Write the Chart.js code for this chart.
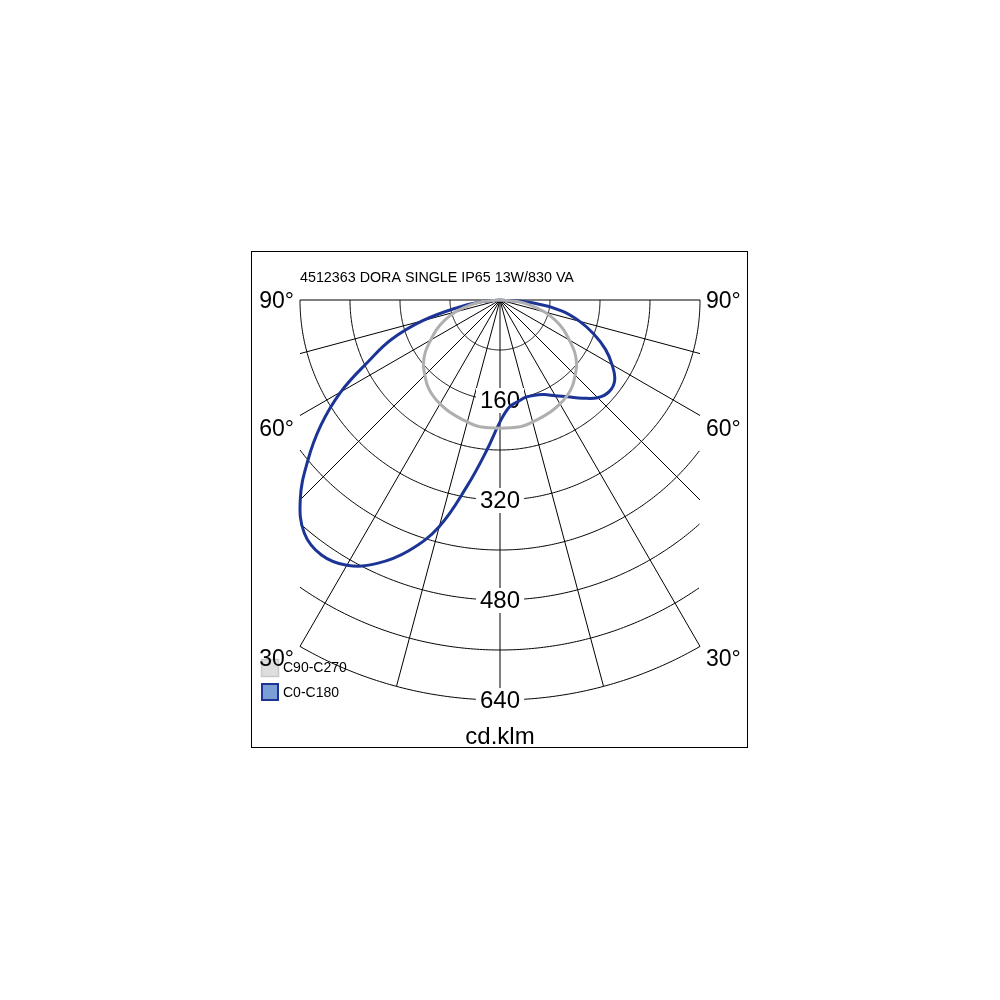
<!DOCTYPE html>
<html>
<head>
<meta charset="utf-8">
<script src="https://cdn.jsdelivr.net/npm/chart.js@4.4.0/dist/chart.umd.min.js"></script>
<style>
  html, body { margin: 0; padding: 0; background: #fff; }
  #wrap { width: 1000px; height: 1000px; }
</style>
</head>
<body>
<div id="wrap"><canvas id="polar" width="1000" height="1000"></canvas></div>
<script>
/**
 * Data (cd/klm)
 */
const gammaDeg = [0, 5, 10, 15, 20, 25, 30, 35, 40, 45, 50, 55, 60, 65, 70, 75, 80, 85, 90];
// C0-C180 plane, left half (C180)
const c180Values = [195, 241, 302, 375, 427, 465, 490, 498, 487, 452, 402, 350, 294, 232, 185, 128, 68, 28, 0];
// C0-C180 plane, right half (C0)
const c0Values = [195, 172, 165, 161, 162, 167, 177, 189, 205, 221, 228, 224, 207, 186, 160, 132, 100, 52, 0];
// C90-C270 plane (symmetric)
const c90Values = [205, 205, 205, 202, 199, 196, 192, 187, 180, 170, 160, 146, 128, 112, 94, 74, 50, 28, 0];

const ringSteps = [80, 160, 240, 320, 400, 480, 560, 640];
const ringLabels = ['160', '320', '480', '640'];
const spokeAngles = [-90, -75, -60, -45, -30, -15, 0, 15, 30, 45, 60, 75, 90];
const angleLabels = ['90°', '60°', '30°'];
const seriesNames = ['C90-C270', 'C0-C180'];
const titleText = '4512363 DORA SINGLE IP65 13W/830 VA';
const unitText = 'cd.klm';

const maxR = 640;   // outer ring
const halfW = 320;  // grid is cut at |x| = 320

const FONT = 'Arial, "Liberation Sans", sans-serif';
const BLUE = 'rgb(28, 52, 150)';
const GREY = 'rgb(175, 175, 175)';

/**
 * Methods
 */
const rad = (d) => d * Math.PI / 180;

// polar -> cartesian, nadir pointing down, left half first
const toPoints = (leftVals, rightVals) => {
  const pts = [];
  for (let i = gammaDeg.length - 1; i >= 0; i--) {
    const g = rad(gammaDeg[i]);
    pts.push({ x: -leftVals[i] * Math.sin(g), y: -leftVals[i] * Math.cos(g) });
  }
  for (let i = 1; i < gammaDeg.length; i++) {
    const g = rad(gammaDeg[i]);
    pts.push({ x: rightVals[i] * Math.sin(g), y: -rightVals[i] * Math.cos(g) });
  }
  return pts;
};

const polarGrid = {
  id: 'polarGrid',
  beforeDatasetsDraw(chart) {
    const { ctx, scales } = chart;
    const px = (v) => scales.x.getPixelForValue(v);
    const py = (v) => scales.y.getPixelForValue(v);

    ctx.save();
    ctx.strokeStyle = '#000';
    ctx.lineWidth = 1;

    // rings
    ringSteps.forEach((r) => {
      const gMax = r <= halfW ? 90 : Math.asin(halfW / r) * 180 / Math.PI;
      ctx.beginPath();
      for (let g = -gMax; g <= gMax + 0.001; g += 0.5) {
        const gg = Math.min(g, gMax);
        const x = px(r * Math.sin(rad(gg)));
        const y = py(-r * Math.cos(rad(gg)));
        if (g === -gMax) ctx.moveTo(x, y); else ctx.lineTo(x, y);
      }
      ctx.stroke();
    });

    // spokes
    spokeAngles.forEach((a) => {
      const s = Math.abs(Math.sin(rad(a)));
      const len = s < 1e-6 ? maxR : Math.min(maxR, halfW / s);
      ctx.beginPath();
      ctx.moveTo(px(0), py(0));
      ctx.lineTo(px(len * Math.sin(rad(a))), py(-len * Math.cos(rad(a))));
      ctx.stroke();
    });

    // ring value labels on white
    ctx.font = '24px ' + FONT;
    ctx.textAlign = 'center';
    ctx.textBaseline = 'middle';
    ringLabels.forEach((lbl) => {
      const y = py(-Number(lbl));
      const w = ctx.measureText(lbl).width;
      ctx.fillStyle = '#fff';
      ctx.fillRect(px(0) - w / 2 - 4, y - 12, w + 8, 25);
      ctx.fillStyle = '#000';
      ctx.fillText(lbl, px(0), y + 1);
    });
    ctx.restore();
  },
  afterDraw(chart) {
    const { ctx, scales } = chart;
    const px = (v) => scales.x.getPixelForValue(v);
    const py = (v) => scales.y.getPixelForValue(v);
    const cy = py(0);

    ctx.save();
    // frame
    ctx.strokeStyle = '#000';
    ctx.lineWidth = 1;
    ctx.strokeRect(251.5, 251.5, 496, 496);

    // title
    ctx.fillStyle = '#000';
    ctx.font = '14.3px ' + FONT;
    ctx.textAlign = 'left';
    ctx.textBaseline = 'alphabetic';
    ctx.fillText(titleText, 300, 282);

    // legend boxes
    ctx.fillStyle = 'rgb(222, 222, 222)';
    ctx.fillRect(261, 659, 18, 18);
    ctx.strokeStyle = 'rgb(200, 200, 200)';
    ctx.lineWidth = 1.5;
    ctx.strokeRect(261.5, 659.5, 17, 17);
    ctx.fillStyle = 'rgb(122, 158, 214)';
    ctx.fillRect(261, 683, 18, 18);
    ctx.strokeStyle = BLUE;
    ctx.lineWidth = 2;
    ctx.strokeRect(262, 684, 16, 16);

    // angle labels
    const offs = [2, 130, 360];
    ctx.font = '23px ' + FONT;
    ctx.textBaseline = 'middle';
    ctx.fillStyle = '#000';
    angleLabels.forEach((lbl, i) => {
      ctx.textAlign = 'right';
      ctx.fillText(lbl, px(-halfW) - 6, cy + offs[i]);
      ctx.textAlign = 'left';
      ctx.fillText(lbl, px(halfW) + 6, cy + offs[i]);
    });

    // legend text
    ctx.font = '14px ' + FONT;
    ctx.textAlign = 'left';
    ctx.fillText(seriesNames[0], 283, 668);
    ctx.fillText(seriesNames[1], 283, 693);

    // unit
    ctx.font = '24px ' + FONT;
    ctx.textAlign = 'center';
    ctx.fillText(unitText, px(0), 737);
    ctx.restore();
  }
};

const createPolarChart = () => {
  const ctx = document.getElementById('polar').getContext('2d');

  new Chart(ctx, {
    type: 'scatter',
    data: {
      datasets: [
        {
          label: seriesNames[0],
          data: toPoints(c90Values, c90Values),
          showLine: true,
          borderColor: GREY,
          borderWidth: 3,
          pointRadius: 0,
          tension: 0.4,
          fill: false
        },
        {
          label: seriesNames[1],
          data: toPoints(c180Values, c0Values),
          showLine: true,
          borderColor: BLUE,
          borderWidth: 3,
          pointRadius: 0,
          tension: 0.4,
          fill: false
        }
      ]
    },
    options: {
      responsive: false,
      animation: false,
      layout: { padding: { left: 250, right: 250, top: 250, bottom: 250 } },
      scales: {
        x: { type: 'linear', min: -400, max: 400, display: false },
        y: { type: 'linear', min: -720, max: 80, display: false }
      },
      plugins: {
        legend: { display: false },
        tooltip: { enabled: false }
      }
    },
    plugins: [polarGrid]
  });
};

document.addEventListener('DOMContentLoaded', () => {
  createPolarChart();
});
</script>
</body>
</html>
